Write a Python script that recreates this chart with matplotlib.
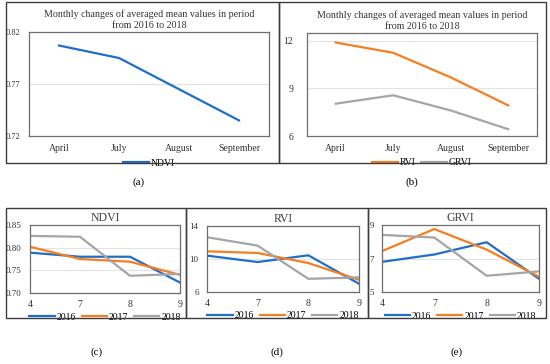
import matplotlib
matplotlib.use("Agg")
import matplotlib.pyplot as plt
from matplotlib.patches import Rectangle

plt.rcParams['font.family'] = ['Liberation Serif', 'DejaVu Serif']

# ---- data ----
months = ['April', 'July', 'August', 'September']
ndvi_avg = [0.807, 0.795, 0.765, 0.735]
rvi_avg = [11.9, 11.25, 9.7, 7.93]
grvi_avg = [8.04, 8.57, 7.61, 6.43]

month_nums = ['4', '7', '8', '9']
years = ['2016', '2017', '2018']
ndvi_2016 = [0.789, 0.780, 0.780, 0.723]
ndvi_2017 = [0.802, 0.775, 0.769, 0.740]
ndvi_2018 = [0.826, 0.824, 0.738, 0.742]
rvi_2016 = [10.41, 9.63, 10.45, 7.0]
rvi_2017 = [10.93, 10.73, 9.51, 7.48]
rvi_2018 = [12.64, 11.62, 7.60, 7.77]
grvi_2016 = [6.80, 7.24, 7.97, 5.79]
grvi_2017 = [7.44, 8.76, 7.53, 5.91]
grvi_2018 = [8.41, 8.25, 5.97, 6.23]

BLUE = '#1f6fc8'
ORANGE = '#f57f20'
GRAY = '#a5a5a5'
FRAME = '#6e6e6e'
GRID = '#e3e3e3'

W, H = 550, 364
fig = plt.figure(figsize=(W / 100, H / 100), dpi=100)


def ax_px(l, t, r, b):
    return fig.add_axes([l / W, 1 - b / H, (r - l) / W, (b - t) / H])


def box_px(l, t, r, b, lw=1.0):
    fig.patches.append(Rectangle((l / W, 1 - b / H), (r - l) / W, (b - t) / H,
                                 transform=fig.transFigure, fill=False,
                                 edgecolor='#3c3c3c', linewidth=lw))


def style(ax, yticks, yfmt):
    for s in ax.spines.values():
        s.set_color(FRAME)
        s.set_linewidth(0.9)
    ax.set_yticks(yticks)
    ax.set_yticklabels([yfmt.format(v) for v in yticks])
    ax.tick_params(length=0, labelsize=6.5, colors='#333333', pad=6)
    ax.yaxis.grid(True, color=GRID, linewidth=0.8)
    ax.set_axisbelow(True)


# outer boxes
box_px(6, 2, 279, 163)
box_px(279, 2, 546, 163)
box_px(6, 208, 186, 318)
box_px(186, 208, 368, 318)
box_px(368, 208, 546, 318)

title_top = 'Monthly changes of averaged mean values in period\nfrom 2016 to 2018'

# (a)
ax = ax_px(29, 32, 269, 136)
xa = list(range(len(months)))
ax.plot(xa, ndvi_avg, color=BLUE, lw=1.6, label='NDVI')
ax.set_xlim(-0.5, 3.5)
ax.set_ylim(0.72, 0.82)
style(ax, [0.72, 0.77, 0.82], '{:.2f}')
ax.set_xticks(xa)
ax.set_xticklabels(months, fontsize=7)
ax.tick_params(axis='y', labelsize=6)
ax.set_title(title_top, fontsize=7.2, pad=3, linespacing=1.3, color='#333333')
ax.legend(loc='upper center', bbox_to_anchor=(0.5, -0.17), frameon=False,
          fontsize=7, handlelength=2.6, handletextpad=0.2, borderpad=0)

# (b)
ax = ax_px(307, 33, 537, 136)
ax.plot(xa, rvi_avg, color=ORANGE, lw=1.6, label='RVI')
ax.plot(xa, grvi_avg, color=GRAY, lw=1.6, label='GRVI')
ax.set_xlim(-0.5, 3.5)
ax.set_ylim(6, 12.5)
style(ax, [6, 9, 12], '{:d}')
ax.set_xticks(xa)
ax.set_xticklabels(months, fontsize=7)
ax.tick_params(axis='y', labelsize=7, pad=10)
ax.set_title(title_top, fontsize=7.2, pad=3, linespacing=1.3, color='#333333')
ax.legend(loc='upper center', bbox_to_anchor=(0.5, -0.17), frameon=False, ncol=2,
          fontsize=7, handlelength=2.6, handletextpad=0.2, columnspacing=0.6, borderpad=0)


def small(l, t, r, b, title, s16, s17, s18, ylim, yticks, yfmt):
    ax = ax_px(l, t, r, b)
    x = list(range(len(month_nums)))
    for vals, c, lab in zip([s16, s17, s18], [BLUE, ORANGE, GRAY], years):
        ax.plot(x, vals, color=c, lw=1.6, label=lab)
    ax.set_xlim(0, 3)
    ax.set_ylim(*ylim)
    style(ax, yticks, yfmt)
    ax.set_xticks(x)
    ax.set_xticklabels(month_nums, fontsize=7)
    ax.tick_params(axis='x', pad=5)
    ax.set_title(title, fontsize=8.5, pad=3, color='#404040')
    ax.legend(loc='upper center', bbox_to_anchor=(0.5, -0.22), frameon=False, ncol=3,
              fontsize=7, handlelength=2.6, handletextpad=0.2, columnspacing=0.6, borderpad=0)
    return ax


small(30, 225, 180, 293, 'NDVI', ndvi_2016, ndvi_2017, ndvi_2018,
      (0.70, 0.85), [0.70, 0.75, 0.80, 0.85], '{:.2f}')
small(207, 226, 359, 292, 'RVI', rvi_2016, rvi_2017, rvi_2018,
      (6, 14), [6, 10, 14], '{:d}')
small(382, 225, 539, 292, 'GRVI', grvi_2016, grvi_2017, grvi_2018,
      (5, 9), [5, 7, 9], '{:d}')

# panel labels
for lab, x, y in [('(a)', 139, 182), ('(b)', 412, 182),
                  ('(c)', 97, 352), ('(d)', 277, 352), ('(e)', 457, 352)]:
    fig.text(x / W, 1 - y / H, lab, ha='center', va='center', fontsize=8)

fig.savefig('out.png', dpi=100)
